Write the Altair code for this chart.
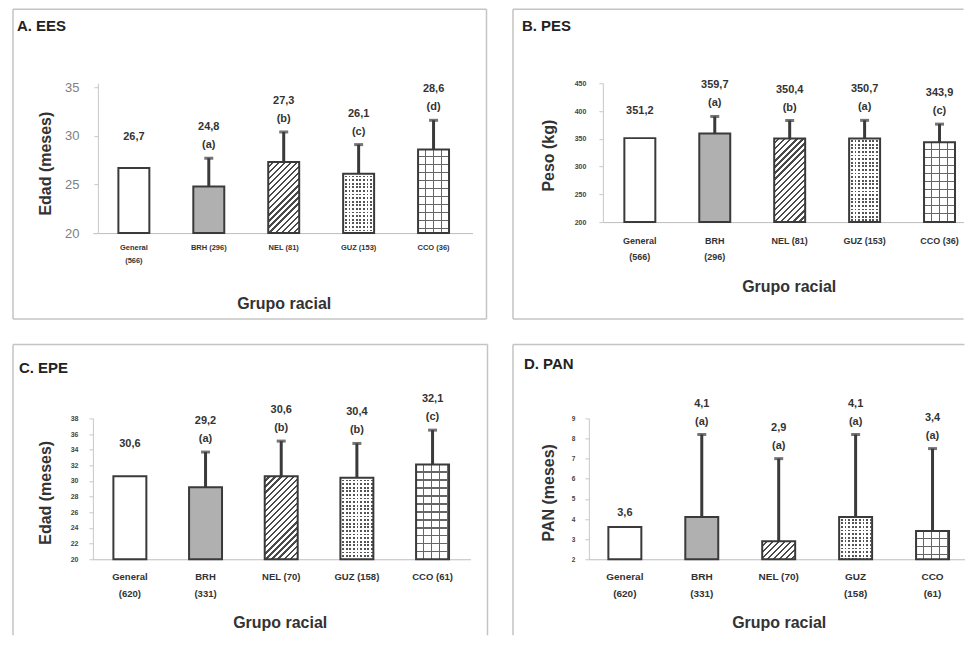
import math
import altair as alt
import pandas as pd

# ---------------- data ----------------
grupos_A = ["General\n(566)", "BRH (296)", "NEL (81)", "GUZ (153)", "CCO (36)"]
media_A = [26.7, 24.8, 27.3, 26.1, 28.6]
de_A = [None, 2.9, 3.1, 3.0, 3.0]
letras_A = ["", "a", "b", "c", "d"]
ticks_A = [20, 25, 30, 35]

grupos_B = ["General\n(566)", "BRH\n(296)", "NEL (81)", "GUZ (153)", "CCO (36)"]
media_B = [351.2, 359.7, 350.4, 350.7, 343.9]
de_B = [None, 30.5, 32.5, 32.5, 32.5]
letras_B = ["", "a", "b", "a", "c"]
ticks_B = [200, 250, 300, 350, 400, 450]

grupos_C = ["General\n(620)", "BRH\n(331)", "NEL (70)", "GUZ (158)", "CCO (61)"]
media_C = [30.6, 29.2, 30.6, 30.4, 32.1]
de_C = [None, 4.5, 4.5, 4.4, 4.4]
letras_C = ["", "a", "b", "b", "c"]
ticks_C = [20, 22, 24, 26, 28, 30, 32, 34, 36, 38]

grupos_D = ["General\n(620)", "BRH\n(331)", "NEL (70)", "GUZ\n(158)", "CCO\n(61)"]
media_D = [3.6, 4.1, 2.9, 4.1, 3.4]
de_D = [None, 4.1, 4.1, 4.1, 4.1]
letras_D = ["", "a", "a", "a", "a"]
ticks_D = [2, 3, 4, 5, 6, 7, 8, 9]

titulos = ["A. EES", "B. PES", "C. EPE", "D. PAN"]
ytitulos = ["Edad (meses)", "Peso (kg)", "Edad (meses)", "PAN (meses)"]
xtitulo = "Grupo racial"

# ---------------- style ----------------
FONT = "Liberation Sans"
TXT = "#333333"
DARK = "#3a3a3a"
FRAME = "#c4c4c4"
GRAY = "#b0b0b0"
CLEAR = "rgba(255,255,255,0)"


def stripe_stops(period, frac_dark, dark, light):
    stops = []
    n = int(math.ceil(1.0 / period))
    for i in range(n):
        a = i * period
        if a >= 1.0:
            break
        b = min(1.0, a + (1 - frac_dark) * period)
        c = min(1.0, a + period)
        stops += [
            {"offset": round(a, 5), "color": light},
            {"offset": round(b, 5), "color": light},
            {"offset": round(b, 5), "color": dark},
            {"offset": round(c, 5), "color": dark},
        ]
    return stops


def grad(x2, y2, stops):
    return {"gradient": "linear", "x1": 0, "y1": 0, "x2": x2, "y2": y2, "stops": stops}


def panel(grupos, media, de, letras, ticks, titulo, ytitulo, cfg):
    n = len(grupos)
    df = pd.DataFrame({"grupo": grupos, "idx": list(range(n)), "media": media,
                       "de": de, "letra": letras})
    df["top"] = df["media"] + df["de"].fillna(0)
    ymin, ymax = ticks[0], ticks[-1]
    w, h0, ext = cfg["w"], cfg["h"], cfg["ext_top"]
    h = h0 + ext
    ytop = ymax + ext * (ymax - ymin) / h0
    step, bw, fc = cfg["step"], cfg["bw"], cfg["fc"]
    pi = 1 - bw / step
    po = max(0.0, (w / step - n + pi) / 2)
    al = min(1.0, max(0.0, (fc - bw / 2) / (w - step * (n - pi))))

    xscale = alt.Scale(domain=grupos, paddingInner=pi, paddingOuter=po, align=al)
    xaxis = alt.Axis(title=xtitulo, labelAngle=0, ticks=False, domainColor="#bdbdbd",
                     labelFont=FONT, labelFontSize=cfg["xl_fs"], labelFontWeight="bold",
                     labelColor=TXT, labelPadding=cfg["xl_pad"], labelLineHeight=cfg["xl_lh"],
                     labelExpr="split(datum.label, '\\n')", labelOverlap=False,
                     labelBaseline="top",
                     titleFont=FONT, titleFontSize=16, titleFontWeight="bold", titleColor=TXT,
                     titleX=cfg["xt"][0], titleY=cfg["xt"][1], titleAlign="center",
                     titleBaseline="middle")
    yscale = alt.Scale(domain=[ymin, ytop], nice=False, zero=False)
    yaxis = alt.Axis(title=ytitulo, values=ticks, grid=False, domainColor="#c8c8c8",
                     tickColor="#c8c8c8", tickSize=4, labelFont=FONT,
                     labelFontSize=cfg["yl_fs"], labelFontWeight=cfg["yl_fw"],
                     labelColor=cfg["yl_col"], labelPadding=cfg["yl_pad"], labelOverlap=False,
                     offset=-cfg["axis_shift"],
                     titleFont=FONT, titleFontSize=16, titleFontWeight="bold", titleColor=TXT,
                     titleX=cfg["yt"][0], titleY=cfg["yt"][1], titleAngle=270,
                     titleAlign="center", titleBaseline="middle")

    X = alt.X("grupo:N", scale=xscale, axis=xaxis)
    Ym = alt.Y("media:Q", scale=yscale, axis=yaxis)
    Yt = alt.Y("top:Q", scale=yscale, axis=yaxis)

    base = alt.Chart(df)
    bars = base.encode(x=X, y=Ym, y2=alt.datum(ymin))

    layers = []
    layers.append(bars.mark_bar().encode(
        fill=alt.condition("datum.idx == 1", alt.value(GRAY), alt.value("#ffffff"))))

    def hpx(i):
        return (media[i] - ymin) / (ytop - ymin) * h

    # NEL: diagonal hatch
    hb = hpx(2)
    s = (bw + hb) / (bw * bw + hb * hb)
    P = 4.3
    diag = grad(bw * s, hb * s, stripe_stops(P * math.sqrt(2) / (bw + hb), 0.38, "#4a4a4a", "#ffffff"))
    layers.append(bars.transform_filter("datum.idx == 2").mark_bar(fill=diag))

    # GUZ: dots
    hb = hpx(3)
    Pd = 3.6
    layers.append(bars.transform_filter("datum.idx == 3").mark_bar(
        fill=grad(1, 0, stripe_stops(Pd / bw, 0.5, "#555555", "#ffffff"))))
    layers.append(bars.transform_filter("datum.idx == 3").mark_bar(
        fill=grad(0, 1, stripe_stops(Pd / hb, 0.5, CLEAR, "#ffffff"))))

    # CCO: grid
    hb = hpx(4)
    Pg = 8.0
    layers.append(bars.transform_filter("datum.idx == 4").mark_bar(
        fill=grad(1, 0, stripe_stops(Pg / bw, 1.1 / Pg, "#666666", CLEAR))))
    layers.append(bars.transform_filter("datum.idx == 4").mark_bar(
        fill=grad(0, 1, stripe_stops(Pg / hb, 1.1 / Pg, "#666666", CLEAR))))

    # outlines
    layers.append(bars.mark_bar(fill="transparent", stroke=DARK, strokeWidth=2))

    # error bars
    err = base.transform_filter("isValid(datum.de)")
    layers.append(err.mark_rule(color=DARK, strokeWidth=3).encode(
        x=X, y=Ym, y2=alt.Y2("top:Q")))
    layers.append(err.mark_tick(color=DARK, size=9, thickness=3).encode(x=X, y=Yt))

    # value labels
    lab = base.transform_calculate(
        vtxt="replace(format(datum.media, '.1f'), '.', ',')",
        ltxt="'(' + datum.letra + ')'")
    tstyle = dict(font=FONT, fontSize=11, fontWeight="bold", color=TXT, baseline="middle")
    layers.append(lab.transform_filter("datum.idx == 0").mark_text(dy=cfg["gen_dy"], **tstyle)
                  .encode(x=X, y=Yt, text="vtxt:N"))
    layers.append(lab.transform_filter("datum.idx > 0").mark_text(dy=-31, **tstyle)
                  .encode(x=X, y=Yt, text="vtxt:N"))
    layers.append(lab.transform_filter("datum.idx > 0").mark_text(dy=-13, **tstyle)
                  .encode(x=X, y=Yt, text="ltxt:N"))

    # frame & title (decoration)
    one = alt.Chart(pd.DataFrame({"k": [0]}))
    L, T, R, B = cfg["frame"]
    fr = dict(color=FRAME, strokeWidth=1.5)
    sides = cfg["sides"]
    if "t" in sides:
        layers.append(one.mark_rule(**fr).encode(x=alt.value(L), x2=alt.value(R), y=alt.value(T)))
    if "b" in sides:
        layers.append(one.mark_rule(**fr).encode(x=alt.value(L), x2=alt.value(R), y=alt.value(B)))
    if "l" in sides:
        layers.append(one.mark_rule(**fr).encode(x=alt.value(L), y=alt.value(T), y2=alt.value(B)))
    if "r" in sides:
        layers.append(one.mark_rule(**fr).encode(x=alt.value(R), y=alt.value(T), y2=alt.value(B)))
    layers.append(one.mark_text(align="left", baseline="middle", font=FONT, fontSize=15,
                                fontWeight="bold", color="#222222").encode(
        x=alt.value(cfg["title"][0]), y=alt.value(cfg["title"][1]), text=alt.value(titulo)))

    return alt.layer(*layers).properties(width=w, height=h)


cfgA = dict(w=380, h=146, ext_top=4, axis_shift=5, step=75, bw=31, fc=41,
            yl_fs=13, yl_fw="normal", yl_col="#808080", yl_pad=15,
            xl_fs=7.5, xl_pad=10, xl_lh=13, yt=(-52, 80), xt=(191, 70),
            frame=(-80, -74, 394, 236), sides="ltrb", title=(-76, -57), gen_dy=-31)
cfgB = dict(w=361, h=139, ext_top=0, axis_shift=0, step=75, bw=31, fc=37,
            yl_fs=7, yl_fw="bold", yl_col="#444444", yl_pad=13,
            xl_fs=9, xl_pad=14, xl_lh=16.5, yt=(-54, 72), xt=(186, 64),
            frame=(-90, -74, 361, 236), sides="ltb", title=(-81, -57), gen_dy=-27)
cfgC = dict(w=378, h=141, ext_top=0, axis_shift=0, step=75.75, bw=33, fc=37,
            yl_fs=7, yl_fw="bold", yl_col="#444444", yl_pad=11,
            xl_fs=9.5, xl_pad=12, xl_lh=17, yt=(-47, 74), xt=(187, 63),
            frame=(-80, -74, 395, 217), sides="ltr", title=(-74, -50), gen_dy=-32)
cfgD = dict(w=376, h=141, ext_top=0, axis_shift=0, step=77, bw=33, fc=36,
            yl_fs=6.5, yl_fw="bold", yl_col="#444444", yl_pad=10,
            xl_fs=10, xl_pad=12, xl_lh=17, yt=(-40, 74), xt=(190, 63),
            frame=(-76, -74, 376, 217), sides="lt", title=(-65, -54), gen_dy=-14)

pA = panel(grupos_A, media_A, de_A, letras_A, ticks_A, titulos[0], ytitulos[0], cfgA)
pB = panel(grupos_B, media_B, de_B, letras_B, ticks_B, titulos[1], ytitulos[1], cfgB)
pC = panel(grupos_C, media_C, de_C, letras_C, ticks_C, titulos[2], ytitulos[2], cfgC)
pD = panel(grupos_D, media_D, de_D, letras_D, ticks_D, titulos[3], ytitulos[3], cfgD)

chart = alt.concat(pA, pB, pC, pD, columns=2, align="none", spacing=23.5).properties(
    padding={"left": 4, "top": 0, "right": 0, "bottom": 0},
    background="white",
).configure_view(strokeWidth=0)

chart.save("out.html", embed_options={"renderer": "svg", "actions": False})
